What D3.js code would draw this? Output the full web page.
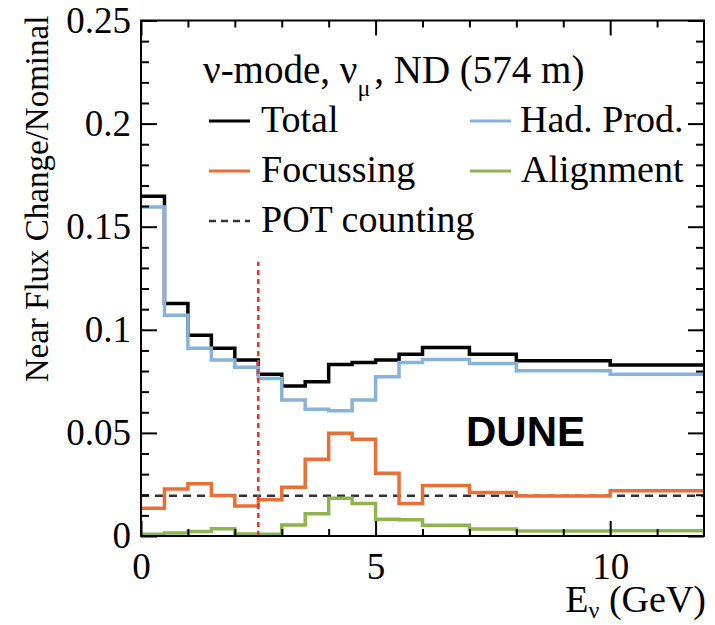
<!DOCTYPE html>
<html>
<head>
<meta charset="utf-8">
<script src="https://cdn.jsdelivr.net/npm/d3@7"></script>
<style>
  html, body { margin: 0; padding: 0; background: #fff; }
  svg { display: block; }
  text { font-family: "Liberation Serif", "Times New Roman", serif; fill: #000; }
</style>
</head>
<body>
<script>
// ---- data ----
const binEdges = [0, 0.5, 1, 1.5, 2, 2.5, 3, 3.5, 4, 4.5, 5, 5.5, 6, 7, 8, 10, 12];
const total     = [0.1648, 0.1128, 0.0974, 0.0910, 0.0853, 0.0785, 0.0727, 0.0748, 0.0832, 0.0842, 0.0853, 0.0882, 0.0914, 0.0882, 0.0850, 0.0829];
const hadProd   = [0.1596, 0.1071, 0.0910, 0.0853, 0.0818, 0.0764, 0.0659, 0.0615, 0.0607, 0.0659, 0.0772, 0.0842, 0.0856, 0.0837, 0.0801, 0.0785];
const focussing = [0.0134, 0.0228, 0.0253, 0.0197, 0.0145, 0.0176, 0.0236, 0.0372, 0.0498, 0.0469, 0.0304, 0.0158, 0.0245, 0.0211, 0.0194, 0.0220];
const alignment = [0.0008, 0.0015, 0.0022, 0.0035, 0.0010, 0.0008, 0.0053, 0.0108, 0.0183, 0.0158, 0.0081, 0.0079, 0.0052, 0.0034, 0.0024, 0.0026];
const potCounting = [0.0195, 0.0195, 0.0195, 0.0195, 0.0195, 0.0195, 0.0195, 0.0195, 0.0195, 0.0195, 0.0195, 0.0195, 0.0195, 0.0195, 0.0195, 0.0195];
const cutLine = { x: 2.5, top: 0.133 };

const xMajorTicks = [0, 5, 10];
const xMajorLabels = ["0", "5", "10"];
const xMinorTicks = [1, 2, 3, 4, 6, 7, 8, 9, 11];
const yMajorTicks = [0, 0.05, 0.1, 0.15, 0.2, 0.25];
const yMajorLabels = ["0", "0.05", "0.1", "0.15", "0.2", "0.25"];
const yMinorTicks = [0.01,0.02,0.03,0.04,0.06,0.07,0.08,0.09,0.11,0.12,0.13,0.14,0.16,0.17,0.18,0.19,0.21,0.22,0.23,0.24];

const series = [
  { name: "POT counting", values: potCounting, color: "#333333", width: 2.5, dash: "8,6" },
  { name: "Alignment",    values: alignment,   color: "#8fb34e", width: 3.5 },
  { name: "Focussing",    values: focussing,   color: "#ea6f36", width: 3.5 },
  { name: "Total",        values: total,       color: "#000000", width: 3.5 },
  { name: "Had. Prod.",   values: hadProd,     color: "#88b2d8", width: 3.5 }
];

// ---- layout ----
const W = 715, H = 625;
const X0 = 141, X1 = 704, Y0 = 536, Y1 = 20.5;

const svg = d3.select("body").append("svg").attr("width", W).attr("height", H);
const x = d3.scaleLinear().domain([0, 12]).range([X0, X1]);
const y = d3.scaleLinear().domain([0, 0.25]).range([Y0, Y1]);

// histogram lines
const line = d3.line().x(d => x(d[0])).y(d => y(d[1])).curve(d3.curveStepAfter);
function histPoints(vals) {
  const pts = vals.map((v, i) => [binEdges[i], v]);
  pts.push([binEdges[binEdges.length - 1], vals[vals.length - 1]]);
  return pts;
}
const plot = svg.append("g");
series.forEach(s => {
  plot.append("path")
    .attr("d", line(histPoints(s.values)))
    .attr("fill", "none")
    .attr("stroke", s.color)
    .attr("stroke-width", s.width)
    .attr("stroke-dasharray", s.dash || null)
    .attr("stroke-linejoin", "miter");
});

// red dotted cut line
plot.append("line")
  .attr("x1", x(cutLine.x)).attr("x2", x(cutLine.x))
  .attr("y1", y(0)).attr("y2", y(cutLine.top))
  .attr("stroke", "#ff2a2a").attr("stroke-width", 2.5)
  .attr("stroke-dasharray", "5,4");

// axes
function styleAxis(g) {
  g.select(".domain").remove();
  g.selectAll(".tick line").attr("stroke", "#000").attr("stroke-width", 2);
}
const fontTick = 37;
// bottom
svg.append("g").attr("transform", `translate(0,${Y0})`)
  .call(d3.axisBottom(x).tickValues(xMajorTicks).tickSize(-15).tickPadding(17)
        .tickFormat((d, i) => xMajorLabels[i]))
  .call(styleAxis)
  .call(g => g.selectAll("text").attr("font-size", fontTick).attr("font-family", "Liberation Serif, serif"));
svg.append("g").attr("transform", `translate(0,${Y0})`)
  .call(d3.axisBottom(x).tickValues(xMinorTicks).tickSize(-7).tickFormat(""))
  .call(styleAxis);
// top
svg.append("g").attr("transform", `translate(0,${Y1})`)
  .call(d3.axisTop(x).tickValues(xMajorTicks).tickSize(-15).tickFormat(""))
  .call(styleAxis);
svg.append("g").attr("transform", `translate(0,${Y1})`)
  .call(d3.axisTop(x).tickValues(xMinorTicks).tickSize(-7).tickFormat(""))
  .call(styleAxis);
// left
svg.append("g").attr("transform", `translate(${X0},0)`)
  .call(d3.axisLeft(y).tickValues(yMajorTicks).tickSize(-16).tickPadding(10)
        .tickFormat((d, i) => yMajorLabels[i]))
  .call(styleAxis)
  .call(g => g.selectAll("text").attr("font-size", fontTick).attr("font-family", "Liberation Serif, serif"));
svg.append("g").attr("transform", `translate(${X0},0)`)
  .call(d3.axisLeft(y).tickValues(yMinorTicks).tickSize(-8).tickFormat(""))
  .call(styleAxis);
// right
svg.append("g").attr("transform", `translate(${X1},0)`)
  .call(d3.axisRight(y).tickValues(yMajorTicks).tickSize(-16).tickFormat(""))
  .call(styleAxis);
svg.append("g").attr("transform", `translate(${X1},0)`)
  .call(d3.axisRight(y).tickValues(yMinorTicks).tickSize(-8).tickFormat(""))
  .call(styleAxis);

// frame
svg.append("rect")
  .attr("x", X0).attr("y", Y1).attr("width", X1 - X0).attr("height", Y0 - Y1)
  .attr("fill", "none").attr("stroke", "#000").attr("stroke-width", 2);

// axis titles
const xt = svg.append("text").attr("x", 706).attr("y", 612)
  .attr("text-anchor", "end").attr("font-size", 38);
xt.append("tspan").text("E");
xt.append("tspan").text("ν").attr("font-size", 24).attr("dy", 6);
xt.append("tspan").text(" (GeV)").attr("dy", -6);

svg.append("text")
  .attr("transform", "translate(48,199) rotate(-90)")
  .attr("text-anchor", "middle").attr("font-size", 33)
  .text("Near Flux Change/Nominal");

// legend
const title = svg.append("text").attr("x", 203).attr("y", 83).attr("font-size", 39);
title.append("tspan").text("ν-mode, ν");
title.append("tspan").text("μ").attr("font-size", 24).attr("dy", 13);
title.append("tspan").text(", ND (574 m)").attr("dy", -13).attr("dx", 4);

const legendItems = [
  { s: series[3], lx: 209, ly: 121, tx: 261, ty: 132 },
  { s: series[4], lx: 470, ly: 121, tx: 520, ty: 132 },
  { s: series[2], lx: 209, ly: 171, tx: 261, ty: 182 },
  { s: series[1], lx: 470, ly: 171, tx: 521, ty: 182 },
  { s: series[0], lx: 209, ly: 221, tx: 261, ty: 232 }
];
legendItems.forEach(d => {
  svg.append("line")
    .attr("x1", d.lx).attr("x2", d.lx + 41).attr("y1", d.ly).attr("y2", d.ly)
    .attr("stroke", d.s.color).attr("stroke-width", d.s.dash ? 2.5 : 3)
    .attr("stroke-dasharray", d.s.dash ? "7,5" : null);
  svg.append("text").attr("x", d.tx).attr("y", d.ty).attr("font-size", 38).text(d.s.name);
});

// DUNE label
svg.append("text").attr("x", 466).attr("y", 446)
  .style("font-family", "'Liberation Sans', Arial, sans-serif")
  .attr("font-weight", "bold").attr("font-size", 42).text("DUNE");
</script>
</body>
</html>
